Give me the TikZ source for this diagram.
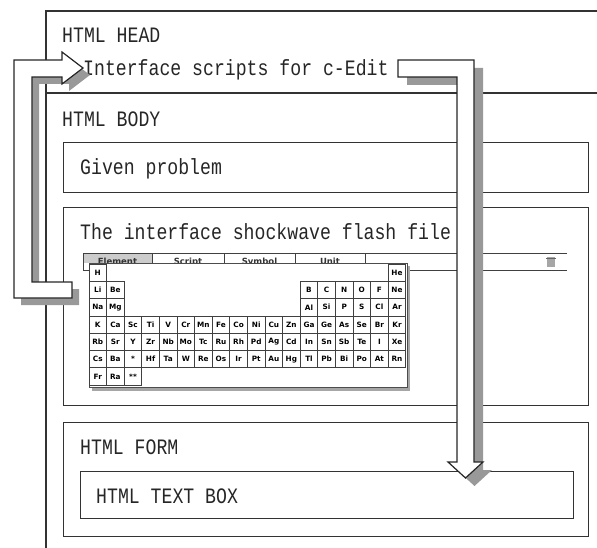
\documentclass[tikz,border=0pt]{standalone}
\usepackage{fontspec}
\newfontfamily\gothic[FakeStretch=0.826]{Liberation Mono}
\newfontfamily\elemfont{DejaVu Sans}

% one cell of the periodic table: row, column, symbol
\newcommand{\elemcell}[3]{\node[elem] (el-#1-#2) at ({89+17.6*(#2-0.5)},{264+17.3*(#1-0.5)}) {#3};}

\begin{document}
\begin{tikzpicture}[x=1pt,y=-1pt,
                    every node/.style={inner sep=0pt},
                    frame/.style={draw=black!80,line width=1.4pt},
                    txt/.style={anchor=base west,text=black!85,font=\gothic\fontsize{22}{22}\selectfont},
                    elem/.style={draw=black!75,line width=0.7pt,fill=white,minimum width=17.6pt,minimum height=17.3pt,
                                 font=\elemfont\bfseries\fontsize{7.3}{7.3}\selectfont},
                    tab/.style={anchor=base,text=black!80,font=\elemfont\bfseries\fontsize{8.5}{8.5}\selectfont},
                    fat arrow/.style={draw=black!85,line width=1.2pt,fill=white,line join=miter},
                    fat shadow/.style={fill=black!40,draw=none}
]
\useasboundingbox (0,0) rectangle (597,548);

% page frame, head and body
\draw[frame] (597,11) -- (46,11) -- (46,548);
\draw[frame] (46,93) -- (597,93);
\node[txt] (head) at (62,43) {HTML HEAD};
\node[txt] (scripts) at (83,76) {Interface scripts for c-Edit};
\node[txt] (bodytxt) at (62,127) {HTML BODY};

% boxes in the body
\node[frame,anchor=north west,minimum width=525pt,minimum height=50pt] (problem) at (63,142) {};
\node[txt] at (80,175) {Given problem};
\node[frame,anchor=north west,minimum width=525pt,minimum height=198pt] (flash) at (63,207) {};
\node[txt] at (80,240) {The interface shockwave flash file};
\node[frame,anchor=north west,minimum width=525pt,minimum height=114pt] (form) at (63,422) {};
\node[txt] at (80,454) {HTML FORM};
\node[frame,anchor=north west,minimum width=493pt,minimum height=47pt] (textbox) at (80,471) {};
\node[txt] at (96,503) {HTML TEXT BOX};

% flash movie: tab strip
\fill[black!20] (83,253) rectangle (152,263);
\draw[black!75,line width=0.9pt] (567,253) -- (83,253) -- (83,270) -- (567,270);
\foreach \x in {152,224,295,365}
  \draw[black!75,line width=0.9pt] (\x,253) -- (\x,263);
\node[tab] (tab1) at (117.5,265) {Element};
\node[tab] (tab2) at (188,265) {Script};
\node[tab] (tab3) at (259.5,265) {Symbol};
\node[tab] (tab4) at (330,265) {Unit};
\fill[black!35] (547,257) rectangle (555,267);
\draw[black!60,line width=0.8pt] (546,258) -- (556,258);

% flash movie: periodic table panel
\fill[black!35] (92,266) rectangle (410,391);
\draw[black!70,line width=0.8pt,fill=white] (89,263) rectangle (407,387);
\elemcell{1}{1}{H}
\elemcell{1}{18}{He}
\foreach \s [count=\c] in {Li,Be} {\elemcell{2}{\c}{\s}}
\foreach \s [count=\c from 13] in {B,C,N,O,F,Ne} {\elemcell{2}{\c}{\s}}
\foreach \s [count=\c] in {Na,Mg} {\elemcell{3}{\c}{\s}}
\foreach \s [count=\c from 13] in {Al,Si,P,S,Cl,Ar} {\elemcell{3}{\c}{\s}}
\foreach \s [count=\c] in {K,Ca,Sc,Ti,V,Cr,Mn,Fe,Co,Ni,Cu,Zn,Ga,Ge,As,Se,Br,Kr} {\elemcell{4}{\c}{\s}}
\foreach \s [count=\c] in {Rb,Sr,Y,Zr,Nb,Mo,Tc,Ru,Rh,Pd,Ag,Cd,In,Sn,Sb,Te,I,Xe} {\elemcell{5}{\c}{\s}}
\foreach \s [count=\c] in {Cs,Ba,*,Hf,Ta,W,Re,Os,Ir,Pt,Au,Hg,Tl,Pb,Bi,Po,At,Rn} {\elemcell{6}{\c}{\s}}
\foreach \s [count=\c] in {Fr,Ra,**} {\elemcell{7}{\c}{\s}}

% fat arrow: flash file -> interface scripts
\fill[fat shadow,shift={(7,7)}] (72,282) -- (32,282) -- (32,77) -- (62,77) -- (62,84) -- (83,68)
      -- (62,52) -- (62,60) -- (14,60) -- (14,298) -- (72,298) -- cycle;
\draw[fat arrow] (72,282) -- (32,282) -- (32,77) -- (62,77) -- (62,84) -- (83,68)
      -- (62,52) -- (62,60) -- (14,60) -- (14,298) -- (72,298) -- cycle;

% fat arrow: interface scripts -> text box
\fill[fat shadow,shift={(9,8)}] (398,60) -- (474,60) -- (474,462) -- (483,462) -- (465.5,478)
      -- (448,462) -- (457,462) -- (457,77) -- (398,77) -- cycle;
\draw[fat arrow] (398,60) -- (474,60) -- (474,462) -- (483,462) -- (465.5,478)
      -- (448,462) -- (457,462) -- (457,77) -- (398,77) -- cycle;
\end{tikzpicture}
\end{document}
